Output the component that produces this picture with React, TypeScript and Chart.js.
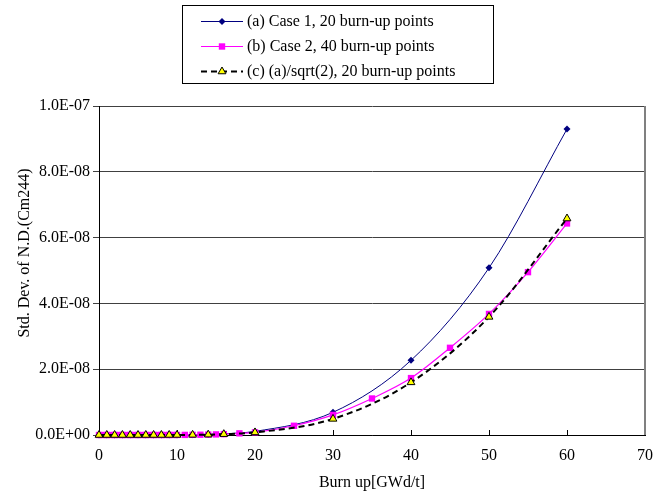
import React, { useEffect, useRef } from "react";
import { Chart, registerables } from "chart.js";

Chart.register(...registerables);

// ---- Data ----
const burnupA: number[] = [0, 1, 2, 3, 4, 5, 6, 7, 8, 9, 10, 12, 14, 16, 20, 30, 40, 50, 60];
const case1: number[] = [
  0, 0, 0, 0, 0, 0, 1e-12, 2e-12, 5e-12, 1e-11, 2e-11, 6e-11, 1.5e-10, 3.5e-10, 1.1e-9,
  6.9e-9, 2.27e-8, 5.08e-8, 9.3e-8,
];
const caseC: number[] = [
  0, 0, 0, 0, 0, 0, 7e-13, 1.4e-12, 3.5e-12, 7e-12, 1.4e-11, 4.2e-11, 1.06e-10, 2.5e-10, 7.8e-10,
  4.9e-9, 1.6e-8, 3.59e-8, 6.58e-8,
];
const burnupB: number[] = [
  0, 0.5, 1, 1.5, 2, 2.5, 3, 3.5, 4, 4.5, 5, 5.5, 6, 6.5, 7, 7.5, 8, 8.5, 9, 9.5, 10,
  11, 12, 13, 14, 15, 16, 18, 20, 25, 30, 35, 40, 45, 50, 55, 60,
];
const case2: number[] = [
  0, 0, 0, 0, 0, 0, 0, 0, 0, 0, 0, 0, 1e-12, 1e-12, 2e-12, 3e-12, 4e-12, 6e-12, 8e-12, 1.1e-11, 1.5e-11,
  3e-11, 5e-11, 8e-11, 1.2e-10, 1.8e-10, 2.6e-10, 5e-10, 8e-10, 2.8e-9, 6.1e-9, 1.11e-8, 1.73e-8,
  2.65e-8, 3.68e-8, 4.95e-8, 6.43e-8,
];
const legendLabels: string[] = [
  "(a) Case 1, 20 burn-up points",
  "(b) Case 2, 40 burn-up points",
  "(c) (a)/sqrt(2), 20 burn-up points",
];
const xTitle = "Burn up[GWd/t]";
const yTitle = "Std. Dev. of N.D.(Cm244)";

const FONT = "'Liberation Serif', 'Times New Roman', serif";

const fmtExp = (v: number): string => {
  if (Math.abs(v) < 1e-20) return "0.0E+00";
  const [m, e] = v.toExponential(1).split("e");
  const n = parseInt(e, 10);
  return m + "E" + (n < 0 ? "-" : "+") + String(Math.abs(n)).padStart(2, "0");
};

const drawMarker = (ctx: CanvasRenderingContext2D, kind: number, x: number, y: number) => {
  ctx.save();
  ctx.beginPath();
  if (kind === 0) {
    const r = 3.5;
    ctx.moveTo(x, y - r);
    ctx.lineTo(x + r, y);
    ctx.lineTo(x, y + r);
    ctx.lineTo(x - r, y);
    ctx.closePath();
    ctx.fillStyle = "#000080";
    ctx.fill();
  } else if (kind === 1) {
    const s = 3.2;
    ctx.rect(x - s, y - s, 2 * s, 2 * s);
    ctx.fillStyle = "#FF00FF";
    ctx.fill();
  } else {
    const r = 4.5;
    ctx.moveTo(x, y - r);
    ctx.lineTo(x + r * 0.866, y + r * 0.5);
    ctx.lineTo(x - r * 0.866, y + r * 0.5);
    ctx.closePath();
    ctx.fillStyle = "#FFFF00";
    ctx.fill();
    ctx.lineWidth = 1;
    ctx.strokeStyle = "#000";
    ctx.stroke();
  }
  ctx.restore();
};

const framePlugin = {
  id: "frame",
  beforeDatasetsDraw(chart: any) {
    const ctx: CanvasRenderingContext2D = chart.ctx;
    const xs = chart.scales.x;
    const ys = chart.scales.y;
    ctx.save();
    ctx.strokeStyle = "#000";
    ctx.lineWidth = 1;
    ctx.beginPath();
    for (const t of xs.ticks) {
      const px = Math.round(xs.getPixelForValue(t.value)) + 0.5;
      ctx.moveTo(px, ys.bottom);
      ctx.lineTo(px, ys.bottom - 5);
    }
    ctx.stroke();
    ctx.strokeStyle = "#808080";
    ctx.lineWidth = 2;
    ctx.beginPath();
    ctx.moveTo(xs.right, ys.top);
    ctx.lineTo(xs.right, ys.bottom);
    ctx.stroke();
    // rotated y-axis title
    ctx.translate(25, 253);
    ctx.rotate(-Math.PI / 2);
    ctx.fillStyle = "#000";
    ctx.font = "16px " + FONT;
    ctx.textAlign = "center";
    ctx.textBaseline = "middle";
    ctx.fillText(yTitle, 0, 0);
    ctx.restore();
  },
};

const legendPlugin = {
  id: "boxLegend",
  afterDraw(chart: any) {
    const ctx: CanvasRenderingContext2D = chart.ctx;
    const bx = 182, by = 5, bw = 311, bh = 78;
    ctx.save();
    ctx.fillStyle = "#fff";
    ctx.fillRect(bx, by, bw, bh);
    ctx.strokeStyle = "#000";
    ctx.lineWidth = 1;
    ctx.strokeRect(bx + 0.5, by + 0.5, bw, bh);
    const rows = [21.5, 46.5, 71.5];
    const colors = ["#000080", "#FF00FF", "#000"];
    rows.forEach((ry, i) => {
      ctx.beginPath();
      ctx.strokeStyle = colors[i];
      ctx.lineWidth = i === 2 ? 2 : 1;
      ctx.setLineDash(i === 2 ? [6, 4] : []);
      ctx.moveTo(201, ry);
      ctx.lineTo(243, ry);
      ctx.stroke();
      ctx.setLineDash([]);
      drawMarker(ctx, i, 222, ry);
      ctx.fillStyle = "#000";
      ctx.font = "16px " + FONT;
      ctx.textBaseline = "middle";
      ctx.textAlign = "left";
      ctx.fillText(legendLabels[i], 247, ry + 0.5);
    });
    ctx.restore();
  },
};

export default function App() {
  const ref = useRef<HTMLCanvasElement | null>(null);

  useEffect(() => {
    document.body.style.margin = "0";
    const canvas = ref.current;
    if (!canvas) return;
    const ptsA = burnupA.map((x, i) => ({ x, y: case1[i] }));
    const ptsB = burnupB.map((x, i) => ({ x, y: case2[i] }));
    const ptsC = burnupA.map((x, i) => ({ x, y: caseC[i] }));
    const chart = new Chart(canvas, {
      type: "line",
      data: {
        datasets: [
          {
            label: legendLabels[0],
            data: ptsA,
            borderColor: "#000080",
            backgroundColor: "#000080",
            borderWidth: 1,
            pointStyle: "rectRot",
            pointRadius: 3.5,
            pointBorderWidth: 0,
            cubicInterpolationMode: "monotone",
            order: 3,
          },
          {
            label: legendLabels[1],
            data: ptsB,
            borderColor: "#FF00FF",
            backgroundColor: "#FF00FF",
            borderWidth: 1.2,
            pointStyle: "rect",
            pointRadius: 4.5,
            pointBorderWidth: 0,
            cubicInterpolationMode: "monotone",
            order: 2,
          },
          {
            label: legendLabels[2],
            data: ptsC,
            borderColor: "#000",
            backgroundColor: "#FFFF00",
            borderWidth: 2,
            borderDash: [6, 4],
            pointStyle: "triangle",
            pointRadius: 4.5,
            pointBorderColor: "#000",
            pointBorderWidth: 1,
            cubicInterpolationMode: "monotone",
            order: 1,
          },
        ],
      } as any,
      options: {
        responsive: false,
        animation: false,
        clip: false as any,
        layout: { padding: { left: 0, right: 11, top: 106, bottom: 0 } },
        plugins: {
          legend: { display: false },
          tooltip: { enabled: false },
        },
        scales: {
          x: {
            type: "linear",
            min: 0,
            max: 70,
            ticks: {
              stepSize: 10,
              color: "#000",
              font: { family: FONT, size: 16 },
              padding: 3,
            },
            grid: { color: "transparent", drawOnChartArea: false, tickLength: 8 },
            border: { color: "#000", width: 1 },
            title: {
              display: true,
              text: xTitle,
              color: "#000",
              font: { family: FONT, size: 16 },
              padding: { top: 0, bottom: 1 },
            },
            afterFit: (s: any) => {
              s.height = 58;
            },
          },
          y: {
            type: "linear",
            min: 0,
            max: 1e-7,
            ticks: {
              stepSize: 2e-8,
              color: "#000",
              font: { family: FONT, size: 16 },
              padding: 3,
              callback: (v: any) => fmtExp(Number(v)),
            },
            grid: { color: "#404040", lineWidth: 1, tickLength: 6 },
            border: { color: "#000", width: 1 },
            title: { display: false },
            afterFit: (s: any) => {
              s.width = 99;
            },
          },
        },
      },
      plugins: [framePlugin, legendPlugin],
    });
    return () => chart.destroy();
  }, []);

  return (
    <div style={{ width: 656, height: 493, background: "#fff" }}>
      <canvas ref={ref} width={656} height={493} style={{ display: "block" }} />
    </div>
  );
}
